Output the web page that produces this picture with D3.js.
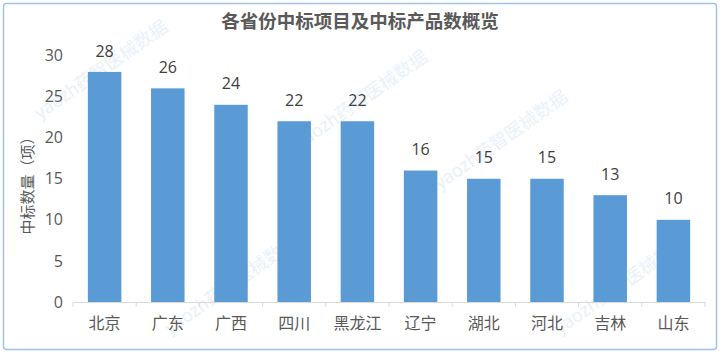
<!DOCTYPE html>
<html><head><meta charset="utf-8">
<script src="https://cdn.jsdelivr.net/npm/d3@7"></script>
<style>html,body{margin:0;padding:0;background:#fff;}svg{display:block;font-family:"Noto Sans CJK SC","Open Sans",sans-serif;}</style>
</head><body>
<svg id="c" width="720" height="353"></svg>
<script>
const categories = ["北京","广东","广西","四川","黑龙江","辽宁","湖北","河北","吉林","山东"];
const values = [28,26,24,22,22,16,15,15,13,10];
const yTicks = [0,5,10,15,20,25,30];
const title = "各省份中标项目及中标产品数概览";
const yLabel = "中标数量（项）";
const watermark = "yaozh药智医械数据";

const svg = d3.select("#c");
svg.append("rect").attr("x",3.5).attr("y",3.5).attr("width",713).attr("height",346)
  .attr("rx",3).attr("fill","#fff").attr("stroke","#9dc3e6").attr("stroke-width",1.5);

// faint watermarks, kept inside the frame
const wm = [[40,120],[300,150],[440,190],[170,335],[560,335]];
svg.append("g").selectAll("text").data(wm).join("text")
  .attr("transform",d=>`translate(${d[0]},${d[1]}) rotate(-35)`)
  .attr("font-size",18).attr("fill","#d6e5f4").attr("opacity",0.5)
  .text(watermark);

const x = d3.scaleBand().domain(categories).range([73,705]).paddingInner(0.47).paddingOuter(0.235);
const y = d3.scaleLinear().domain([0,30]).range([302,55.5]);

svg.append("text").attr("x",360).attr("y",28).attr("text-anchor","middle")
  .attr("font-size",18.5).attr("font-weight","bold").attr("fill","#595959").text(title);

// y axis labels
svg.append("g").selectAll("text").data(yTicks).join("text")
  .attr("x",63).attr("y",d=>y(d)).attr("dy","0.35em").attr("text-anchor","end")
  .attr("font-size",16).attr("font-family","'Open Sans',sans-serif").attr("fill","#595959").text(d=>d);

svg.append("text").attr("transform","translate(33,182) rotate(-90)").attr("text-anchor","middle")
  .attr("font-size",15).attr("fill","#595959").text(yLabel);

// x axis
const xb = d3.scaleBand().domain(categories).range([73,705]);
const ax = svg.append("g").attr("transform","translate(0,302)")
  .call(d3.axisBottom(xb).tickSize(0).tickFormat(""));
ax.select(".domain").attr("stroke","#d9d9d9");
const bounds = categories.map(c=>xb(c)).concat([705]);
svg.append("g").selectAll("line").data(bounds).join("line")
  .attr("x1",d=>d).attr("x2",d=>d).attr("y1",302).attr("y2",307).attr("stroke","#d9d9d9");

svg.append("g").selectAll("text").data(categories).join("text")
  .attr("x",d=>xb(d)+xb.bandwidth()/2).attr("y",323).attr("dy","0.35em").attr("text-anchor","middle")
  .attr("font-size",16).attr("fill","#595959").text(d=>d);

// bars
svg.append("g").selectAll("rect").data(values).join("rect")
  .attr("x",(d,i)=>x(categories[i])).attr("width",x.bandwidth())
  .attr("y",d=>y(d)).attr("height",d=>y(0)-y(d)).attr("fill","#5b9bd5");

svg.append("g").selectAll("text").data(values).join("text")
  .attr("x",(d,i)=>x(categories[i])+x.bandwidth()/2).attr("y",d=>y(d)-21).attr("dy","0.35em")
  .attr("text-anchor","middle").attr("font-size",16).attr("font-family","'Open Sans',sans-serif")
  .attr("fill","#404040").text(d=>d);
</script>
</body></html>
